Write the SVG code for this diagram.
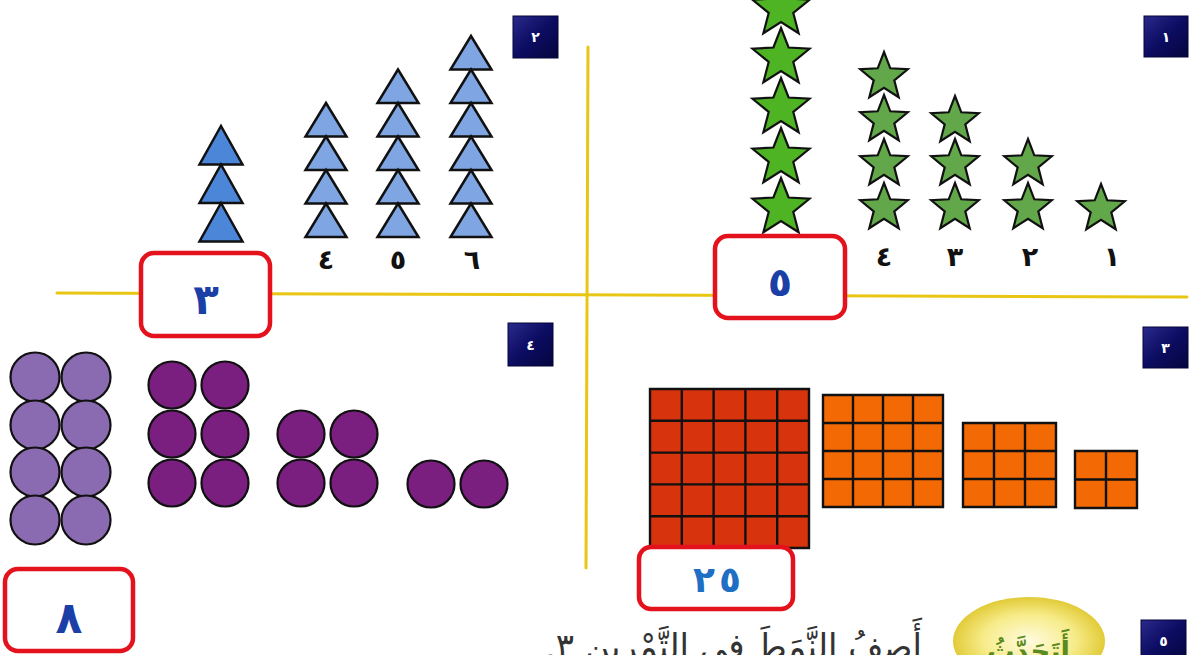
<svg xmlns="http://www.w3.org/2000/svg" width="1195" height="655" viewBox="0 0 1195 655">
<defs>
<style>
.axis{stroke:#e9c614;stroke-width:3;fill:none;stroke-linecap:round}
.badge rect{fill:url(#navy);stroke:#05053a;stroke-width:1}
.badge text{fill:#ffffff;font-family:"DejaVu Sans",sans-serif;font-size:14px;font-weight:bold;text-anchor:middle}
.ans rect{fill:#ffffff;stroke:#e4121c;stroke-width:4.5}
.ans text{fill:#1b3fa6;font-family:"DejaVu Sans",sans-serif;font-weight:bold;text-anchor:middle}
.lbl{fill:#111;font-family:"DejaVu Sans",sans-serif;font-size:27px;font-weight:bold;text-anchor:middle}
.bigstar{fill:#4fb424;stroke:#111;stroke-width:2.2;stroke-linejoin:miter}
.smstar{fill:#62a84a;stroke:#111;stroke-width:2.2;stroke-linejoin:miter}
.triA{fill:#4b86d8;stroke:#111;stroke-width:2.5;stroke-linejoin:miter}
.triB{fill:#7fa6e2;stroke:#111;stroke-width:2.5;stroke-linejoin:miter}
.cl{fill:#8a6bb2;stroke:#111;stroke-width:2.2}
.cd{fill:#7a1f80;stroke:#111;stroke-width:2.2}
.grid{stroke:#111;stroke-width:2.4;fill:none}
</style>
<linearGradient id="navy" x1="0" y1="0" x2="1" y2="1">
<stop offset="0" stop-color="#2a2a8c"/>
<stop offset="0.5" stop-color="#0c0c62"/>
<stop offset="1" stop-color="#05053e"/>
</linearGradient>
<radialGradient id="yel" cx="0.5" cy="0.5" r="0.5">
<stop offset="0" stop-color="#fffbe0"/>
<stop offset="0.6" stop-color="#f7ec8a"/>
<stop offset="1" stop-color="#e2cb38"/>
</radialGradient>
<path id="starL" d="M0,-30 L7.6,-10.5 L28.53,-9.27 L12.3,4 L17.63,24.27 L0,13 L-17.63,24.27 L-12.3,4 L-28.53,-9.27 L-7.6,-10.5 Z"/>
<path id="starS" d="M0,-25 L6.3,-8.7 L23.78,-7.73 L10.3,3.35 L14.69,20.23 L0,10.8 L-14.69,20.23 L-10.3,3.35 L-23.78,-7.73 L-6.3,-8.7 Z"/>
<path id="triL" d="M0,0 L21.5,38.5 L-21.5,38.5 Z"/>
<path id="triS" d="M0,0 L20.5,33.5 L-20.5,33.5 Z"/>
</defs>

<rect width="1195" height="655" fill="#ffffff"/>

<g id="axes">
<line class="axis" x1="588" y1="47" x2="586" y2="568"/>
<line class="axis" x1="57" y1="293" x2="1187" y2="297"/>
</g>

<!-- Quadrant 1: stars -->
<g id="badge-1" class="badge"><rect x="1144" y="16" width="44" height="41"/><text x="1166" y="42">١</text></g>
<g id="stars-5">
<use href="#starL" class="bigstar" x="781" y="9"/>
<use href="#starL" class="bigstar" x="781" y="58"/>
<use href="#starL" class="bigstar" x="781" y="108"/>
<use href="#starL" class="bigstar" x="781" y="158"/>
<use href="#starL" class="bigstar" x="781" y="208"/>
</g>
<g id="stars-4">
<use href="#starS" class="smstar" x="884" y="77"/>
<use href="#starS" class="smstar" x="884" y="120"/>
<use href="#starS" class="smstar" x="884" y="164"/>
<use href="#starS" class="smstar" x="884" y="208"/>
<text class="lbl" x="884" y="266">٤</text>
</g>
<g id="stars-3">
<use href="#starS" class="smstar" x="955" y="121"/>
<use href="#starS" class="smstar" x="955" y="164"/>
<use href="#starS" class="smstar" x="955" y="208"/>
<text class="lbl" x="955" y="266">٣</text>
</g>
<g id="stars-2">
<use href="#starS" class="smstar" x="1028" y="164"/>
<use href="#starS" class="smstar" x="1028" y="208"/>
<text class="lbl" x="1030" y="266">٢</text>
</g>
<g id="stars-1">
<use href="#starS" class="smstar" x="1101" y="209"/>
<text class="lbl" x="1112" y="266">١</text>
</g>
<g id="answer-5" class="ans"><rect x="715" y="236" width="130" height="82" rx="13"/><text x="780" y="296" font-size="40">٥</text></g>

<!-- Quadrant 2: triangles -->
<g id="badge-2" class="badge"><rect x="513" y="16" width="45" height="42"/><text x="535.5" y="42">٢</text></g>
<g id="tri-3">
<use href="#triL" class="triA" x="221" y="126"/>
<use href="#triL" class="triA" x="221" y="164.5"/>
<use href="#triL" class="triA" x="221" y="203"/>
</g>
<g id="tri-4">
<use href="#triS" class="triB" x="326" y="103"/>
<use href="#triS" class="triB" x="326" y="136.5"/>
<use href="#triS" class="triB" x="326" y="170"/>
<use href="#triS" class="triB" x="326" y="203.5"/>
<text class="lbl" x="326" y="269">٤</text>
</g>
<g id="tri-5">
<use href="#triS" class="triB" x="398" y="69.5"/>
<use href="#triS" class="triB" x="398" y="103"/>
<use href="#triS" class="triB" x="398" y="136.5"/>
<use href="#triS" class="triB" x="398" y="170"/>
<use href="#triS" class="triB" x="398" y="203.5"/>
<text class="lbl" x="398" y="269">٥</text>
</g>
<g id="tri-6">
<use href="#triS" class="triB" x="471" y="36"/>
<use href="#triS" class="triB" x="471" y="69.5"/>
<use href="#triS" class="triB" x="471" y="103"/>
<use href="#triS" class="triB" x="471" y="136.5"/>
<use href="#triS" class="triB" x="471" y="170"/>
<use href="#triS" class="triB" x="471" y="203.5"/>
<text class="lbl" x="472" y="269">٦</text>
</g>
<g id="answer-3" class="ans"><rect x="141" y="253" width="129" height="83" rx="13"/><text x="206" y="314" font-size="42">٣</text></g>

<!-- Quadrant 3: squares -->
<g id="badge-3" class="badge"><rect x="1143" y="327" width="45" height="41"/><text x="1165.5" y="353">٣</text></g>
<g id="grid-25">
<rect x="650" y="389" width="159" height="159" fill="#d7330c"/>
<path class="grid" d="M650,389 h159 v159 h-159 Z M681.8,389 v159 M713.6,389 v159 M745.4,389 v159 M777.2,389 v159 M650,420.8 h159 M650,452.6 h159 M650,484.4 h159 M650,516.2 h159"/>
</g>
<g id="grid-16">
<rect x="823" y="395" width="120" height="112" fill="#f36a05"/>
<path class="grid" d="M823,395 h120 v112 h-120 Z M853,395 v112 M883,395 v112 M913,395 v112 M823,423 h120 M823,451 h120 M823,479 h120"/>
</g>
<g id="grid-9">
<rect x="963" y="423" width="93" height="84" fill="#f36a05"/>
<path class="grid" d="M963,423 h93 v84 h-93 Z M994,423 v84 M1025,423 v84 M963,451 h93 M963,479 h93"/>
</g>
<g id="grid-4">
<rect x="1075" y="451" width="62" height="57" fill="#f36a05"/>
<path class="grid" d="M1075,451 h62 v57 h-62 Z M1106,451 v57 M1075,479.5 h62"/>
</g>
<g id="answer-25" class="ans"><rect x="639" y="547" width="154" height="62" rx="12"/><text x="704" y="592" font-size="36" style="fill:#1f6fc4">٢</text><text x="730" y="592" font-size="36" style="fill:#1f6fc4">٥</text></g>

<!-- Quadrant 4: circles -->
<g id="badge-4" class="badge"><rect x="508" y="323" width="45" height="43"/><text x="530.5" y="350">٤</text></g>
<g id="circles-8">
<circle class="cl" cx="35" cy="377" r="24.5"/><circle class="cl" cx="86" cy="377" r="24.5"/>
<circle class="cl" cx="35" cy="425" r="24.5"/><circle class="cl" cx="86" cy="425" r="24.5"/>
<circle class="cl" cx="35" cy="472" r="24.5"/><circle class="cl" cx="86" cy="472" r="24.5"/>
<circle class="cl" cx="35" cy="520" r="24.5"/><circle class="cl" cx="86" cy="520" r="24.5"/>
</g>
<g id="circles-6">
<circle class="cd" cx="172" cy="385" r="23.5"/><circle class="cd" cx="225" cy="385" r="23.5"/>
<circle class="cd" cx="172" cy="434" r="23.5"/><circle class="cd" cx="225" cy="434" r="23.5"/>
<circle class="cd" cx="172" cy="483" r="23.5"/><circle class="cd" cx="225" cy="483" r="23.5"/>
</g>
<g id="circles-4">
<circle class="cd" cx="301" cy="434" r="23.5"/><circle class="cd" cx="354" cy="434" r="23.5"/>
<circle class="cd" cx="301" cy="483" r="23.5"/><circle class="cd" cx="354" cy="483" r="23.5"/>
</g>
<g id="circles-2">
<circle class="cd" cx="431" cy="484" r="23.5"/><circle class="cd" cx="484" cy="484" r="23.5"/>
</g>
<g id="answer-8" class="ans"><rect x="5" y="569" width="128" height="82" rx="13"/><text x="69" y="633" font-size="44">٨</text></g>

<!-- Bottom: exercise 5 -->
<g id="badge-5" class="badge"><rect x="1141" y="620" width="45" height="42"/><text x="1163.5" y="646">٥</text></g>
<g id="talk-badge">
<ellipse cx="1029" cy="641" rx="76" ry="44" fill="url(#yel)"/>
<text x="987" y="661" font-family="'DejaVu Sans',sans-serif" font-size="28" font-weight="bold" fill="#5b8a1e" textLength="83" lengthAdjust="spacingAndGlyphs">أَتَحَدَّثُ</text>
</g>
<text id="question" x="545" y="659" textLength="377" lengthAdjust="spacingAndGlyphs" font-family="'DejaVu Sans',sans-serif" font-size="36" fill="#333333">أَصِفُ النَّمَطَ في التَّمْرينِ ٣.&#x200F;</text>
</svg>
